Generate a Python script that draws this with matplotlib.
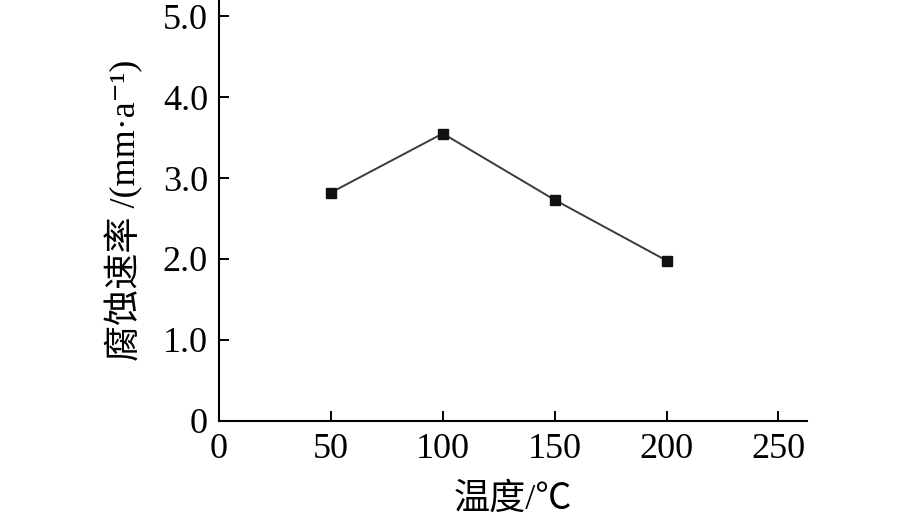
import matplotlib
matplotlib.use('Agg')
import matplotlib.pyplot as plt

# 数据：温度与腐蚀速率
temperature = [50, 100, 150, 200]
corrosion_rate = [2.82, 3.55, 2.73, 1.98]

x_ticks = [0, 50, 100, 150, 200, 250]
y_ticks = [0, 1.0, 2.0, 3.0, 4.0, 5.0]
y_tick_labels = ['0', '1.0', '2.0', '3.0', '4.0', '5.0']

fonts = ['Liberation Serif', 'Noto Sans CJK SC', 'DejaVu Serif']
plt.rcParams['font.family'] = fonts


def main():
    fig = plt.figure(figsize=(9.18, 5.24), dpi=100)
    ax = fig.add_axes([0.2386, 0.197, 0.641, 0.803])

    ax.plot(temperature, corrosion_rate, color='#3a3a3a', linewidth=1.4,
            marker='s', markersize=7, markerfacecolor='#111111',
            markeredgecolor='#111111')

    ax.set_xlim(0, 263)
    ax.set_ylim(0, 5.2)
    ax.set_xticks(x_ticks)
    ax.set_yticks(y_ticks)
    ax.set_yticklabels(y_tick_labels)

    for side in ['top', 'right']:
        ax.spines[side].set_visible(False)
    for side in ['left', 'bottom']:
        ax.spines[side].set_linewidth(1.5)

    ax.tick_params(direction='in', length=7, width=1.4, labelsize=26)
    ax.tick_params(axis='x', pad=9)
    ax.tick_params(axis='y', pad=8)

    ax.set_xlabel('温度/℃', fontsize=26, labelpad=12)
    ax.set_ylabel('腐蚀速率 /(mm·a⁻¹)', fontsize=26, labelpad=14)

    fig.savefig('out.png', dpi=100)


if __name__ == "__main__":
    main()
